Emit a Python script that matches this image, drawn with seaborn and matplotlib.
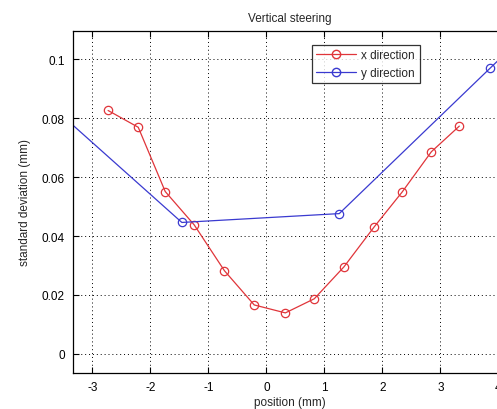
import matplotlib
matplotlib.use("Agg")
import matplotlib.pyplot as plt
import seaborn as sns
import pandas as pd

# Measured standard deviation versus steering position
x_pos = [-2.73, -2.21, -1.745, -1.246, -0.723, -0.21, 0.327, 0.826, 1.336, 1.859, 2.34, 2.845, 3.327]
x_std = [0.0826, 0.0769, 0.0551, 0.0438, 0.0282, 0.0166, 0.0139, 0.0187, 0.0295, 0.0431, 0.0549, 0.0686, 0.0773]

y_pos = [-4.11, -1.458, 1.256, 3.86, 6.5]
y_std = [0.0912, 0.0446, 0.0476, 0.0970, 0.1470]

series_names = ["x direction", "y direction"]
series_colors = ["#e0353a", "#3a3ad0"]

df = pd.concat([
    pd.DataFrame({"position": x_pos, "std": x_std, "series": series_names[0]}),
    pd.DataFrame({"position": y_pos, "std": y_std, "series": series_names[1]}),
], ignore_index=True)

sns.set_style("white")
plt.rcParams["font.family"] = ["Liberation Sans", "DejaVu Sans"]
plt.rcParams["axes.unicode_minus"] = False

fig = plt.figure(figsize=(4.97, 4.10), dpi=100)
ax = fig.add_axes([0.1475, 0.0878, 0.8727, 0.835])

sns.lineplot(data=df, x="position", y="std", hue="series",
             palette=dict(zip(series_names, series_colors)),
             marker="o", markersize=6, markerfacecolor="none",
             linewidth=0.9, sort=False, estimator=None, ax=ax, legend=False)
for line, c in zip(ax.lines, series_colors):
    line.set_markeredgecolor(c)
    line.set_markeredgewidth(0.9)

ax.set_xlim(-3.33, 4.15)
ax.set_ylim(-0.0065, 0.1097)
ax.set_xticks([-3, -2, -1, 0, 1, 2, 3, 4])
ax.set_yticks([0, 0.02, 0.04, 0.06, 0.08, 0.1])
ax.set_yticklabels(["0", "0.02", "0.04", "0.06", "0.08", "0.1"])
ax.grid(True, color="black", linestyle=(0, (1, 3)), linewidth=0.7)
ax.tick_params(direction="in", length=4, width=0.8, labelsize=8.5, colors="black",
               top=True, right=True, bottom=True, left=True, pad=6)
for s in ax.spines.values():
    s.set_color("black")
    s.set_linewidth(0.9)

ax.set_title("Vertical steering", fontsize=8.5, pad=7)
ax.set_xlabel("position (mm)", fontsize=8.5, labelpad=2)
ax.set_ylabel("standard deviation (mm)", fontsize=8.5, labelpad=8)

handles = [plt.Line2D([], [], color=c, marker="o", markerfacecolor="none",
                      markeredgecolor=c, markersize=6, linewidth=0.9)
           for c in series_colors]
leg = ax.legend(handles, series_names, loc="upper left",
                bbox_to_anchor=(0.627, 0.8885), bbox_transform=fig.transFigure,
                borderaxespad=0, fontsize=8.5, frameon=True, fancybox=False,
                edgecolor="black", handlelength=3.4, handletextpad=0.4,
                labelspacing=0.45, borderpad=0.4)
leg.get_frame().set_linewidth(0.9)

fig.savefig("out.png", dpi=100)
